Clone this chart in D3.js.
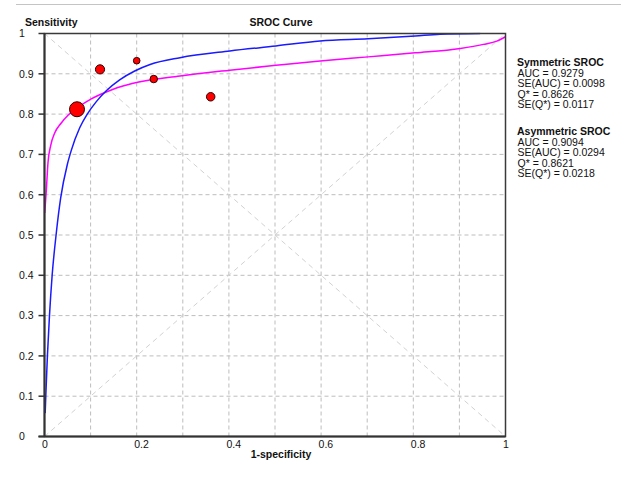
<!DOCTYPE html>
<html>
<head>
<meta charset="utf-8">
<script src="https://cdn.jsdelivr.net/npm/d3@7"></script>
<style>
  body { margin: 0; background: #fff; }
  text { font-family: "Liberation Sans", Arial, sans-serif; fill: #111; }
</style>
</head>
<body>
<script>
// study points (1-specificity, sensitivity) and relative weight
const fpr = [0.0705, 0.1204, 0.2, 0.237, 0.3605];
const sens = [0.812, 0.911, 0.9325, 0.887, 0.843];
const weight = [56, 21, 11, 14, 18];

// symmetric SROC curve
const symX = [0.0015, 0.0028, 0.0063, 0.0108, 0.0166, 0.0256, 0.0351, 0.0495, 0.0581, 0.0764, 0.0928, 0.1124, 0.134, 0.163, 0.1957, 0.229, 0.294, 0.402, 0.502, 0.598, 0.702, 0.804, 0.858, 0.945];
const symY = [0.058, 0.1, 0.2, 0.3, 0.4, 0.505, 0.592, 0.675, 0.71, 0.766, 0.8, 0.831, 0.858, 0.885, 0.907, 0.923, 0.94, 0.9566, 0.969, 0.9814, 0.987, 0.9938, 0.998, 1.0];

// asymmetric SROC curve
const asymX = [0.0005, 0.0039, 0.0076, 0.0134, 0.0221, 0.0364, 0.051, 0.0727, 0.1015, 0.134, 0.159, 0.19, 0.294, 0.402, 0.502, 0.598, 0.702, 0.804, 0.902, 0.952, 0.981, 1.0];
const asymY = [0.555, 0.61, 0.68, 0.722, 0.753, 0.778, 0.797, 0.817, 0.838, 0.855, 0.866, 0.876, 0.8945, 0.909, 0.921, 0.932, 0.942, 0.952, 0.963, 0.973, 0.981, 0.992];

const xTicks = [0, 0.2, 0.4, 0.6, 0.8, 1];
const yTicks = [0, 0.1, 0.2, 0.3, 0.4, 0.5, 0.6, 0.7, 0.8, 0.9, 1];
const gridVals = [0.1, 0.2, 0.3, 0.4, 0.5, 0.6, 0.7, 0.8, 0.9];

const symStats = ["AUC = 0.9279", "SE(AUC) = 0.0098", "Q* = 0.8626", "SE(Q*) = 0.0117"];
const asymStats = ["AUC = 0.9094", "SE(AUC) = 0.0294", "Q* = 0.8621", "SE(Q*) = 0.0218"];

const W = 628, H = 483;
const m = { left: 44.5, top: 33.5, right: 505.5, bottom: 436.5 };

const svg = d3.select("body").append("svg")
  .attr("width", W)
  .attr("height", H);

svg.append("line")
  .attr("x1", 16).attr("x2", 621).attr("y1", 4.5).attr("y2", 4.5)
  .attr("stroke", "#c4c4c4");

const x = d3.scaleLinear().domain([0, 1]).range([m.left, m.right]);
const y = d3.scaleLinear().domain([0, 1]).range([m.bottom, m.top]);

// grid
const grid = svg.append("g")
  .attr("stroke", "#bdbdbd")
  .attr("stroke-dasharray", "4,3");
grid.selectAll(".gx").data(gridVals).enter().append("line")
  .attr("x1", d => x(d)).attr("x2", d => x(d))
  .attr("y1", m.top).attr("y2", m.bottom);
grid.selectAll(".gy").data(gridVals).enter().append("line")
  .attr("x1", m.left).attr("x2", m.right)
  .attr("y1", d => y(d)).attr("y2", d => y(d));

// diagonals
const diag = svg.append("g")
  .attr("stroke", "#d2d2d2")
  .attr("stroke-dasharray", "5,4");
diag.append("line").attr("x1", x(0)).attr("y1", y(0)).attr("x2", x(1)).attr("y2", y(1));
diag.append("line").attr("x1", x(0)).attr("y1", y(1)).attr("x2", x(1)).attr("y2", y(0));

svg.append("clipPath").attr("id", "clip")
  .append("rect")
  .attr("x", m.left).attr("y", m.top - 1)
  .attr("width", m.right - m.left).attr("height", m.bottom - m.top + 1);

const line = d3.line()
  .x(d => x(d[0]))
  .y(d => y(d[1]))
  .curve(d3.curveMonotoneX);

svg.append("path")
  .datum(asymX.map((v, i) => [v, asymY[i]]))
  .attr("clip-path", "url(#clip)")
  .attr("fill", "none")
  .attr("stroke", "#ff00ff")
  .attr("stroke-width", 1.5)
  .attr("d", line);

svg.append("path")
  .datum(symX.map((v, i) => [v, symY[i]]))
  .attr("clip-path", "url(#clip)")
  .attr("fill", "none")
  .attr("stroke", "#1a1aff")
  .attr("stroke-width", 1.5)
  .attr("d", line);

// frame and axes
svg.append("rect")
  .attr("x", m.left).attr("y", m.top)
  .attr("width", m.right - m.left).attr("height", m.bottom - m.top)
  .attr("fill", "none")
  .attr("stroke", "#3a3a3a")
  .attr("stroke-width", 1.5);

svg.append("line")
  .attr("x1", m.left).attr("x2", m.left).attr("y1", m.top).attr("y2", m.bottom)
  .attr("stroke", "#333").attr("stroke-width", 2);
svg.append("line")
  .attr("x1", m.left - 6).attr("x2", m.right).attr("y1", m.bottom).attr("y2", m.bottom)
  .attr("stroke", "#333").attr("stroke-width", 2);

svg.selectAll(".ytick").data(yTicks).enter().append("line")
  .attr("x1", m.left - 6).attr("x2", m.left)
  .attr("y1", d => y(d)).attr("y2", d => y(d))
  .attr("stroke", "#333").attr("stroke-width", 1.5);

svg.selectAll(".ylab").data(yTicks).enter().append("text")
  .attr("x", 19)
  .attr("y", d => y(d) + 3.8)
  .attr("font-size", "10.5px")
  .text(d => d3.format("~g")(d));

svg.selectAll(".xlab").data(xTicks).enter().append("text")
  .attr("x", d => x(d) - 2.5)
  .attr("y", 447.5)
  .attr("font-size", "10.5px")
  .text(d => d3.format("~g")(d));

// points
const r = d3.scaleSqrt().domain([0, d3.max(weight)]).range([0, 7.5]);
svg.selectAll(".pt").data(fpr).enter().append("circle")
  .attr("cx", d => x(d))
  .attr("cy", (d, i) => y(sens[i]))
  .attr("r", (d, i) => r(weight[i]))
  .attr("fill", "#ff0000")
  .attr("stroke", "#300")
  .attr("stroke-width", 1);

// titles
svg.append("text").attr("x", 25).attr("y", 25.5)
  .attr("font-size", "10.5px").attr("font-weight", "bold").text("Sensitivity");
svg.append("text").attr("x", 281).attr("y", 25.5).attr("text-anchor", "middle")
  .attr("font-size", "10.5px").attr("font-weight", "bold").text("SROC Curve");
svg.append("text").attr("x", 281).attr("y", 458).attr("text-anchor", "middle")
  .attr("font-size", "10.5px").attr("font-weight", "bold").text("1-specificity");

// stats legend
function block(title, lines, top) {
  svg.append("text").attr("x", 517).attr("y", top)
    .attr("font-size", "10.5px").attr("font-weight", "bold").text(title);
  svg.selectAll(null).data(lines).enter().append("text")
    .attr("x", 517.5)
    .attr("y", (d, i) => top + 10.5 * (i + 1))
    .attr("font-size", "10.5px")
    .text(d => d);
}
block("Symmetric SROC", symStats, 66);
block("Asymmetric SROC", asymStats, 135);
</script>
</body>
</html>
